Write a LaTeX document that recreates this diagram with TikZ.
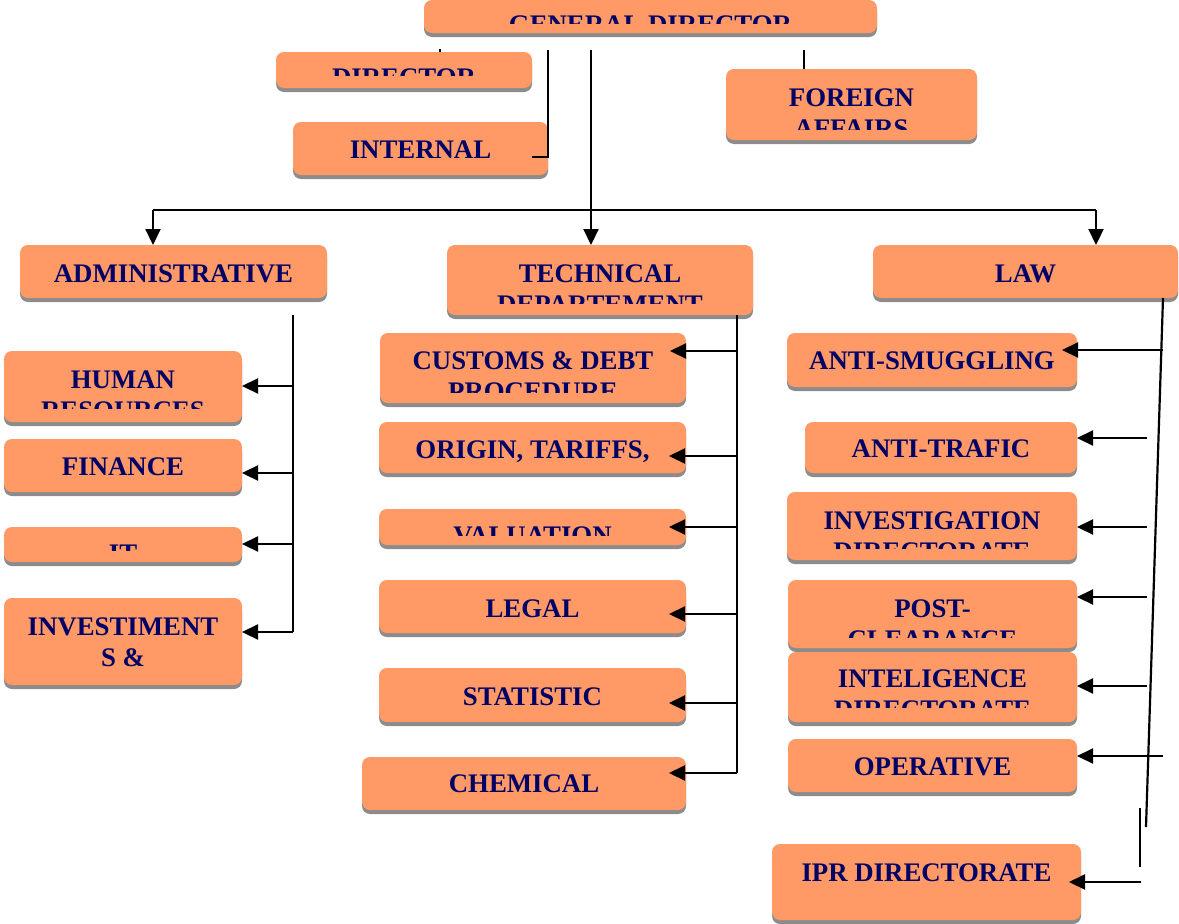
\documentclass[tikz,border=0pt]{standalone}
\usepackage{fontspec}
\setmainfont{Liberation Serif}
\usetikzlibrary{arrows.meta,calc,fit,shadows}
\definecolor{boxc}{RGB}{255,153,102}
\definecolor{navyt}{RGB}{0,0,102}
\definecolor{shad}{RGB}{140,140,140}
\tikzset{
  obox/.style={rounded corners=8pt, fill=boxc, draw=none, inner sep=0pt, outer sep=0pt,
    general shadow={fill=shad, shadow xshift=0pt, shadow yshift=-4pt}},
  txt/.style={anchor=base, inner sep=0pt, outer sep=0pt, text=navyt,
    font=\fontsize{26.8}{31}\selectfont\bfseries},
  conn/.style={line width=2.2pt, black},
  arr/.style={conn, -{Triangle[length=16pt,width=15pt]}},
}
% name, box, baseline, text
\newcommand\boxline[4]{\node[txt] (#1) at (#2.center |- 0,#3) {#4};}
% name, box, clip y, baseline, text
\newcommand\clipline[5]{\begin{scope}\clip (#2.north west) rectangle (#2.east |- 0,#3);
  \node[txt] (#1) at (#2.center |- 0,#4) {#5};\end{scope}}
\begin{document}
\begin{tikzpicture}[x=1pt,y=-1pt]
\useasboundingbox (0,0) rectangle (1179,924);

% top level
\node[obox, fit={(424,0) (877,33)}] (gd) {};
\clipline{gdt}{gd}{23}{33}{GENERAL DIRECTOR}
\node[obox, fit={(276,52) (532,88)}] (dir) {};
\clipline{dirt}{dir}{75}{86}{DIRECTOR}
\node[obox, fit={(293,122) (548,175)}] (int) {};
\boxline{intt}{int}{158}{INTERNAL}
\node[obox, fit={(726,69) (977,140)}] (fa) {};
\boxline{fat1}{fa}{106}{FOREIGN}
\clipline{fat2}{fa}{129}{137}{AFFAIRS}

% second level
\node[obox, fit={(20,245) (327,298)}] (adm) {};
\boxline{admt}{adm}{282}{ADMINISTRATIVE}
\node[obox, fit={(447,245) (753,315)}] (tech) {};
\boxline{techt1}{tech}{282}{TECHNICAL}
\clipline{techt2}{tech}{303}{313}{DEPARTEMENT}
\node[obox, fit={(873,245) (1178,298)}] (law) {};
\boxline{lawt}{law}{282}{LAW}

% administrative
\node[obox, fit={(4,351) (242,422)}] (hr) {};
\boxline{hrt1}{hr}{388}{HUMAN}
\clipline{hrt2}{hr}{408}{419}{RESOURCES}
\node[obox, fit={(4,439) (242,492)}] (fin) {};
\boxline{fint}{fin}{475}{FINANCE}
\node[obox, fit={(4,527) (242,562)}] (it) {};
\clipline{itt}{it}{550}{562}{IT}
\node[obox, fit={(4,598) (242,685)}] (inv) {};
\boxline{invt1}{inv}{635}{INVESTIMENT}
\boxline{invt2}{inv}{666}{S \&}

% technical
\node[obox, fit={(380,333) (686,403)}] (cus) {};
\boxline{cust1}{cus}{369}{CUSTOMS \& DEBT}
\clipline{cust2}{cus}{392}{400}{PROCEDURE}
\node[obox, fit={(379,422) (686,473)}] (ori) {};
\boxline{orit}{ori}{458}{ORIGIN, TARIFFS,}
\node[obox, fit={(379,509) (686,545)}] (val) {};
\clipline{valt}{val}{535}{544}{VALUATION}
\node[obox, fit={(379,580) (686,633)}] (leg) {};
\boxline{legt}{leg}{617}{LEGAL}
\node[obox, fit={(379,668) (686,722)}] (sta) {};
\boxline{stat}{sta}{705}{STATISTIC}
\node[obox, fit={(362,757) (686,810)}] (che) {};
\boxline{chet}{che}{792}{CHEMICAL}

% law
\node[obox, fit={(787,333) (1077,387)}] (asm) {};
\boxline{asmt}{asm}{369}{ANTI-SMUGGLING}
\node[obox, fit={(805,422) (1077,473)}] (atr) {};
\boxline{atrt}{atr}{457}{ANTI-TRAFIC}
\node[obox, fit={(787,492) (1077,560)}] (ivd) {};
\boxline{ivdt1}{ivd}{529}{INVESTIGATION}
\clipline{ivdt2}{ivd}{548}{560}{DIRECTORATE}
\node[obox, fit={(788,580) (1077,648)}] (pc) {};
\boxline{pct1}{pc}{617}{POST-}
\clipline{pct2}{pc}{637}{648}{CLEARANCE}
\node[obox, fit={(788,652) (1077,722)}] (itl) {};
\boxline{itlt1}{itl}{687}{INTELIGENCE}
\clipline{itlt2}{itl}{707}{718}{DIRECTORATE}
\node[obox, fit={(788,739) (1077,792)}] (ope) {};
\boxline{opet}{ope}{775}{OPERATIVE}
\node[obox, fit={(772,844) (1081,920)}] (ipr) {};
\boxline{iprt}{ipr}{881}{IPR DIRECTORATE}

% ---- connectors ----
\coordinate (gdA) at (591,50);
\coordinate (busL) at (153,210);
\coordinate (busR) at (1096,210);
\draw[arr] (gdA) -- (gdA |- tech.north);
\draw[conn] (busL) -- (busR);
\draw[arr] (busL) -- (busL |- adm.north);
\draw[arr] (busR) -- (busR |- law.north);

\coordinate (intA) at (548,50);
\coordinate (intB) at (532,157);
\draw[conn] (intA) |- (intB);
\coordinate (dirA) at (440,49);
\draw[conn, line width=1.5pt] (dirA) -- (dirA |- dir.north);
\coordinate (faA) at (804,50);
\draw[conn, line width=1.5pt] (faA) -- (faA |- fa.north);

% administrative bus
\coordinate (admA) at (293,315);
\coordinate (admB) at (293,632);
\draw[conn] (admA) -- (admB);
\coordinate (a1) at (293,386);
\coordinate (a2) at (293,473);
\coordinate (a3) at (293,544);
\draw[arr] (a1) -- (a1 -| hr.east);
\draw[arr] (a2) -- (a2 -| fin.east);
\draw[arr] (a3) -- (a3 -| it.east);
\draw[arr] (admB) -- (admB -| inv.east);

% technical bus
\coordinate (tA) at (737,315);
\coordinate (tB) at (737,773);
\draw[conn] (tA) -- (tB);
\coordinate (t1) at (737,351);
\coordinate (t2) at (737,456);
\coordinate (t3) at (737,527);
\coordinate (t4) at (737,614);
\coordinate (t5) at (737,703);
\draw[arr] (t1) -- ($(t1 -| cus.east)+(-16,0)$);
\draw[arr] (t2) -- ($(t2 -| ori.east)+(-17,0)$);
\draw[arr] (t3) -- ($(t3 -| val.east)+(-17,0)$);
\draw[arr] (t4) -- ($(t4 -| leg.east)+(-17,0)$);
\draw[arr] (t5) -- ($(t5 -| sta.east)+(-17,0)$);
\draw[arr] (tB) -- ($(tB -| che.east)+(-17,0)$);

% law bus
\coordinate (lA) at (1163,298);
\coordinate (lB) at (1146,827);
\draw[conn] (lA) -- (lB);
\coordinate (r1) at (1163,350);
\coordinate (r2) at (1147,438);
\coordinate (r3) at (1147,527);
\coordinate (r4) at (1147,597);
\coordinate (r5) at (1147,686);
\coordinate (r6) at (1163,756);
\coordinate (r7) at (1141,882);
\draw[arr] (r1) -- ($(r1 -| asm.east)+(-15,0)$);
\draw[arr] (r2) -- (r2 -| atr.east);
\draw[arr] (r3) -- (r3 -| ivd.east);
\draw[arr] (r4) -- (r4 -| pc.east);
\draw[arr] (r5) -- (r5 -| itl.east);
\draw[arr] (r6) -- (r6 -| ope.east);
\coordinate (vA) at (1140,808);
\coordinate (vB) at (1140,867);
\draw[conn] (vA) -- (vB);
\draw[arr] (r7) -- ($(r7 -| ipr.east)+(-12,0)$);
\end{tikzpicture}
\end{document}
